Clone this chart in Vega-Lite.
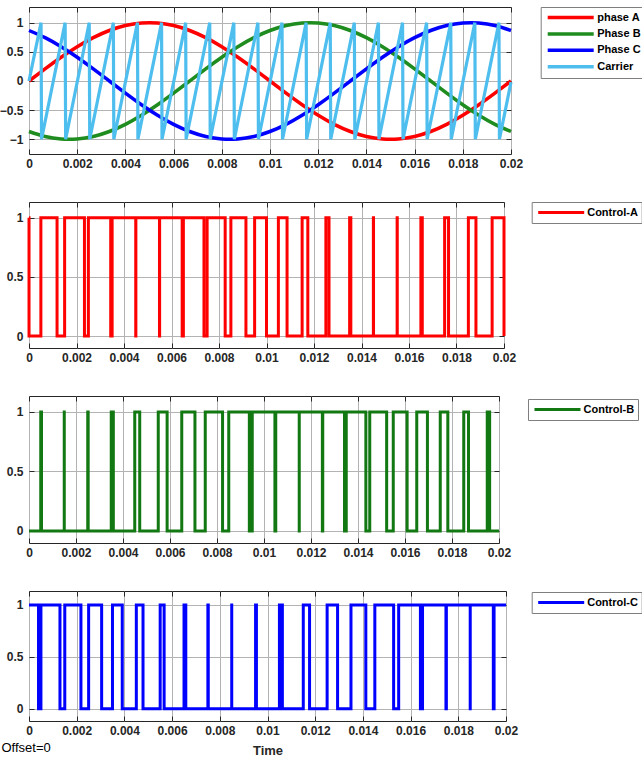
{
  "$schema": "https://vega.github.io/schema/vega-lite/v6.json",
  "padding": {"left": -2, "top": 6, "right": 0, "bottom": 0},
  "background": "white",
  "bounds": "flush",
  "spacing": 48,
  "datasets": {
    "sines": [
      {"t": 0, "phase A": 0, "Phase B": -0.866, "Phase C": 0.866},
      {"t": 0.00066667, "phase A": 0.2079, "Phase B": -0.9511, "Phase C": 0.7431},
      {"t": 0.00133333, "phase A": 0.4067, "Phase B": -0.9945, "Phase C": 0.5878},
      {"t": 0.002, "phase A": 0.5878, "Phase B": -0.9945, "Phase C": 0.4067},
      {"t": 0.00266667, "phase A": 0.7431, "Phase B": -0.9511, "Phase C": 0.2079},
      {"t": 0.00333333, "phase A": 0.866, "Phase B": -0.866, "Phase C": 0},
      {"t": 0.004, "phase A": 0.9511, "Phase B": -0.7431, "Phase C": -0.2079},
      {"t": 0.00466667, "phase A": 0.9945, "Phase B": -0.5878, "Phase C": -0.4067},
      {"t": 0.00533333, "phase A": 0.9945, "Phase B": -0.4067, "Phase C": -0.5878},
      {"t": 0.006, "phase A": 0.9511, "Phase B": -0.2079, "Phase C": -0.7431},
      {"t": 0.00666667, "phase A": 0.866, "Phase B": 0, "Phase C": -0.866},
      {"t": 0.00733333, "phase A": 0.7431, "Phase B": 0.2079, "Phase C": -0.9511},
      {"t": 0.008, "phase A": 0.5878, "Phase B": 0.4067, "Phase C": -0.9945},
      {"t": 0.00866667, "phase A": 0.4067, "Phase B": 0.5878, "Phase C": -0.9945},
      {"t": 0.00933333, "phase A": 0.2079, "Phase B": 0.7431, "Phase C": -0.9511},
      {"t": 0.01, "phase A": 0, "Phase B": 0.866, "Phase C": -0.866},
      {"t": 0.01066667, "phase A": -0.2079, "Phase B": 0.9511, "Phase C": -0.7431},
      {"t": 0.01133333, "phase A": -0.4067, "Phase B": 0.9945, "Phase C": -0.5878},
      {"t": 0.012, "phase A": -0.5878, "Phase B": 0.9945, "Phase C": -0.4067},
      {"t": 0.01266667, "phase A": -0.7431, "Phase B": 0.9511, "Phase C": -0.2079},
      {"t": 0.01333333, "phase A": -0.866, "Phase B": 0.866, "Phase C": 0},
      {"t": 0.014, "phase A": -0.9511, "Phase B": 0.7431, "Phase C": 0.2079},
      {"t": 0.01466667, "phase A": -0.9945, "Phase B": 0.5878, "Phase C": 0.4067},
      {"t": 0.01533333, "phase A": -0.9945, "Phase B": 0.4067, "Phase C": 0.5878},
      {"t": 0.016, "phase A": -0.9511, "Phase B": 0.2079, "Phase C": 0.7431},
      {"t": 0.01666667, "phase A": -0.866, "Phase B": 0, "Phase C": 0.866},
      {"t": 0.01733333, "phase A": -0.7431, "Phase B": -0.2079, "Phase C": 0.9511},
      {"t": 0.018, "phase A": -0.5878, "Phase B": -0.4067, "Phase C": 0.9945},
      {"t": 0.01866667, "phase A": -0.4067, "Phase B": -0.5878, "Phase C": 0.9945},
      {"t": 0.01933333, "phase A": -0.2079, "Phase B": -0.7431, "Phase C": 0.9511},
      {"t": 0.02, "phase A": 0, "Phase B": -0.866, "Phase C": 0.866}
    ],
    "carrier": [
      {"t": 0, "v": 0},
      {"t": 0.0005, "v": 1}, {"t": 0.00052, "v": -1},
      {"t": 0.0015, "v": 1}, {"t": 0.00152, "v": -1},
      {"t": 0.0025, "v": 1}, {"t": 0.00252, "v": -1},
      {"t": 0.0035, "v": 1}, {"t": 0.00352, "v": -1},
      {"t": 0.0045, "v": 1}, {"t": 0.00452, "v": -1},
      {"t": 0.0055, "v": 1}, {"t": 0.00552, "v": -1},
      {"t": 0.0065, "v": 1}, {"t": 0.00652, "v": -1},
      {"t": 0.0075, "v": 1}, {"t": 0.00752, "v": -1},
      {"t": 0.0085, "v": 1}, {"t": 0.00852, "v": -1},
      {"t": 0.0095, "v": 1}, {"t": 0.00952, "v": -1},
      {"t": 0.0105, "v": 1}, {"t": 0.01052, "v": -1},
      {"t": 0.0115, "v": 1}, {"t": 0.01152, "v": -1},
      {"t": 0.0125, "v": 1}, {"t": 0.01252, "v": -1},
      {"t": 0.0135, "v": 1}, {"t": 0.01352, "v": -1},
      {"t": 0.0145, "v": 1}, {"t": 0.01452, "v": -1},
      {"t": 0.0155, "v": 1}, {"t": 0.01552, "v": -1},
      {"t": 0.0165, "v": 1}, {"t": 0.01652, "v": -1},
      {"t": 0.0175, "v": 1}, {"t": 0.01752, "v": -1},
      {"t": 0.0185, "v": 1}, {"t": 0.01852, "v": -1},
      {"t": 0.0195, "v": 1}, {"t": 0.01952, "v": -1},
      {"t": 0.02, "v": -0.02}
    ],
    "ctrlA": [
      {"t": 0, "v": 1}, {"t": 0.000001, "v": 0}, {"t": 0.0005, "v": 1}, {"t": 0.0011811, "v": 0},
      {"t": 0.0015, "v": 1}, {"t": 0.002335, "v": 0}, {"t": 0.0025, "v": 1}, {"t": 0.0034411, "v": 0},
      {"t": 0.0035, "v": 1}, {"t": 0.0044939, "v": 0}, {"t": 0.0045, "v": 1}, {"t": 0.0054939, "v": 0},
      {"t": 0.0055, "v": 1}, {"t": 0.0064494, "v": 0}, {"t": 0.0065, "v": 1}, {"t": 0.0073678, "v": 0},
      {"t": 0.0075, "v": 1}, {"t": 0.00826, "v": 0}, {"t": 0.0085, "v": 1}, {"t": 0.0091344, "v": 0},
      {"t": 0.0095, "v": 1}, {"t": 0.01, "v": 0}, {"t": 0.0105, "v": 1}, {"t": 0.0108656, "v": 0},
      {"t": 0.0115, "v": 1}, {"t": 0.01174, "v": 0}, {"t": 0.0125, "v": 1}, {"t": 0.0126322, "v": 0},
      {"t": 0.0135, "v": 1}, {"t": 0.0135506, "v": 0}, {"t": 0.0145, "v": 1}, {"t": 0.0145061, "v": 0},
      {"t": 0.0155, "v": 1}, {"t": 0.0155061, "v": 0}, {"t": 0.0165, "v": 1}, {"t": 0.0165589, "v": 0},
      {"t": 0.0175, "v": 1}, {"t": 0.017665, "v": 0}, {"t": 0.0185, "v": 1}, {"t": 0.0188189, "v": 0},
      {"t": 0.0195, "v": 1}, {"t": 0.02, "v": 0}
    ],
    "ctrlB": [
      {"t": 0, "v": 0}, {"t": 0.0005, "v": 1}, {"t": 0.0005317, "v": 0}, {"t": 0.0015, "v": 1},
      {"t": 0.0015006, "v": 0}, {"t": 0.0025, "v": 1}, {"t": 0.0025178, "v": 0}, {"t": 0.0035, "v": 1},
      {"t": 0.0035883, "v": 0}, {"t": 0.0045, "v": 1}, {"t": 0.0047117, "v": 0}, {"t": 0.0055, "v": 1},
      {"t": 0.0058778, "v": 0}, {"t": 0.0065, "v": 1}, {"t": 0.0070617, "v": 0}, {"t": 0.0075, "v": 1},
      {"t": 0.0082367, "v": 0}, {"t": 0.0085, "v": 1}, {"t": 0.0093761, "v": 0}, {"t": 0.0095, "v": 1},
      {"t": 0.0104644, "v": 0}, {"t": 0.0105, "v": 1}, {"t": 0.0114994, "v": 0}, {"t": 0.0115, "v": 1},
      {"t": 0.0124839, "v": 0}, {"t": 0.0125, "v": 1}, {"t": 0.0134256, "v": 0}, {"t": 0.0135, "v": 1},
      {"t": 0.0143344, "v": 0}, {"t": 0.0145, "v": 1}, {"t": 0.0152194, "v": 0}, {"t": 0.0155, "v": 1},
      {"t": 0.01609, "v": 0}, {"t": 0.0165, "v": 1}, {"t": 0.0169544, "v": 0}, {"t": 0.0175, "v": 1},
      {"t": 0.0178222, "v": 0}, {"t": 0.0185, "v": 1}, {"t": 0.0187017, "v": 0}, {"t": 0.0195, "v": 1},
      {"t": 0.0196017, "v": 0}, {"t": 0.02, "v": 0}
    ],
    "ctrlC": [
      {"t": 0, "v": 1}, {"t": 0.0003989, "v": 0}, {"t": 0.0005, "v": 1}, {"t": 0.0012983, "v": 0},
      {"t": 0.0015, "v": 1}, {"t": 0.0021778, "v": 0}, {"t": 0.0025, "v": 1}, {"t": 0.0030456, "v": 0},
      {"t": 0.0035, "v": 1}, {"t": 0.00391, "v": 0}, {"t": 0.0045, "v": 1}, {"t": 0.0047806, "v": 0},
      {"t": 0.0055, "v": 1}, {"t": 0.0056656, "v": 0}, {"t": 0.0065, "v": 1}, {"t": 0.0065744, "v": 0},
      {"t": 0.0075, "v": 1}, {"t": 0.0075161, "v": 0}, {"t": 0.0085, "v": 1}, {"t": 0.0085006, "v": 0},
      {"t": 0.0095, "v": 1}, {"t": 0.0095356, "v": 0}, {"t": 0.0105, "v": 1}, {"t": 0.0106239, "v": 0},
      {"t": 0.0115, "v": 1}, {"t": 0.0117633, "v": 0}, {"t": 0.0125, "v": 1}, {"t": 0.0129383, "v": 0},
      {"t": 0.0135, "v": 1}, {"t": 0.0141222, "v": 0}, {"t": 0.0145, "v": 1}, {"t": 0.0152883, "v": 0},
      {"t": 0.0155, "v": 1}, {"t": 0.0164117, "v": 0}, {"t": 0.0165, "v": 1}, {"t": 0.0174822, "v": 0},
      {"t": 0.0175, "v": 1}, {"t": 0.0184994, "v": 0}, {"t": 0.0185, "v": 1}, {"t": 0.0194683, "v": 0},
      {"t": 0.0195, "v": 1}, {"t": 0.02, "v": 1}
    ]
  },
  "config": {
    "font": "Liberation Sans",
    "view": {"stroke": "#262626", "strokeWidth": 1},
    "axis": {
      "domain": false,
      "labelFont": "Liberation Sans", "labelFontSize": 12, "labelFontWeight": "bold", "labelColor": "#262626",
      "tickColor": "#262626", "tickSize": -5, "tickWidth": 1,
      "gridColor": "#b3b3b3", "gridWidth": 1,
      "titleFont": "Liberation Sans", "titleFontSize": 13, "titleFontWeight": "bold", "titleColor": "#262626",
      "labelFlush": false, "labelOverlap": false
    },
    "axisX": {"labelPadding": 9},
    "axisY": {"labelPadding": 11},
    "legend": {
      "orient": "none", "title": null,
      "symbolType": "stroke", "symbolSize": 2116, "clipHeight": 15, "rowPadding": 1.4,
      "padding": 3, "symbolOffset": 2, "labelOffset": 1.5,
      "labelFont": "Liberation Sans", "labelFontSize": 11, "labelFontWeight": "bold", "labelColor": "#000000",
      "strokeColor": "#7f7f7f", "fillColor": "#ffffff"
    }
  },
  "vconcat": [
    {
      "width": 482, "height": 147,
      "layer": [
        {
          "data": {"name": "sines"},
          "transform": [{"fold": ["phase A", "Phase B", "Phase C"], "as": ["s", "v"]}],
          "mark": {"type": "line", "interpolate": "natural", "strokeWidth": 3.5},
          "encoding": {
            "x": {"field": "t", "type": "quantitative", "scale": {"domain": [0, 0.02], "nice": false, "zero": false},
                  "axis": {"title": null, "values": [0, 0.002, 0.004, 0.006, 0.008, 0.01, 0.012, 0.014, 0.016, 0.018, 0.02], "format": "~g"}},
            "y": {"field": "v", "type": "quantitative", "scale": {"domain": [-1.252, 1.269], "nice": false, "zero": false},
                  "axis": {"title": null, "values": [-1, -0.5, 0, 0.5, 1], "format": "~g"}},
            "color": {"field": "s", "type": "nominal",
                      "scale": {"domain": ["phase A", "Phase B", "Phase C", "Carrier"], "range": ["#ff0000", "#1e8c1e", "#0000ff", "#4dbeee"]},
                      "legend": {"legendX": 511.7, "legendY": 0, "symbolStrokeWidth": 3.5}}
          }
        },
        {
          "data": {"name": "carrier"},
          "mark": {"type": "line", "strokeWidth": 3.2},
          "encoding": {
            "x": {"field": "t", "type": "quantitative", "axis": null},
            "y": {"field": "v", "type": "quantitative", "axis": null},
            "color": {"datum": "Carrier"}
          }
        },
        {
          "data": {"name": "carrier"},
          "mark": {"type": "line", "opacity": 0},
          "encoding": {
            "x": {"field": "t", "type": "quantitative", "axis": {"orient": "top", "labels": false, "grid": false, "title": null, "values": [0, 0.002, 0.004, 0.006, 0.008, 0.01, 0.012, 0.014, 0.016, 0.018, 0.02]}},
            "y": {"field": "v", "type": "quantitative", "axis": {"orient": "right", "labels": false, "grid": false, "title": null, "values": [-1, -0.5, 0, 0.5, 1]}}
          }
        }
      ],
      "resolve": {"axis": {"x": "independent", "y": "independent"}}
    },
    {
      "width": 475, "height": 146,
      "layer": [
        {
          "data": {"name": "ctrlA"},
          "mark": {"type": "line", "interpolate": "step-after", "strokeWidth": 3},
          "encoding": {
            "x": {"field": "t", "type": "quantitative", "scale": {"domain": [0, 0.02], "nice": false, "zero": false},
                  "axis": {"title": null, "values": [0, 0.002, 0.004, 0.006, 0.008, 0.01, 0.012, 0.014, 0.016, 0.018, 0.02], "format": "~g"}},
            "y": {"field": "v", "type": "quantitative", "scale": {"domain": [-0.101, 1.133], "nice": false, "zero": false},
                  "axis": {"title": null, "values": [0, 0.5, 1], "format": "~g"}},
            "color": {"datum": "Control-A", "scale": {"domain": ["Control-A"], "range": ["#ff0000"]},
                      "legend": {"legendX": 502.7, "legendY": 0, "symbolStrokeWidth": 3}}
          }
        },
        {
          "data": {"name": "ctrlA"},
          "mark": {"type": "line", "opacity": 0},
          "encoding": {
            "x": {"field": "t", "type": "quantitative", "axis": {"orient": "top", "labels": false, "grid": false, "title": null, "values": [0, 0.002, 0.004, 0.006, 0.008, 0.01, 0.012, 0.014, 0.016, 0.018, 0.02]}},
            "y": {"field": "v", "type": "quantitative", "axis": {"orient": "right", "labels": false, "grid": false, "title": null, "values": [0, 0.5, 1]}}
          }
        }
      ],
      "resolve": {"axis": {"x": "independent", "y": "independent"}}
    },
    {
      "width": 470, "height": 147,
      "layer": [
        {
          "data": {"name": "ctrlB"},
          "mark": {"type": "line", "interpolate": "step-after", "strokeWidth": 3},
          "encoding": {
            "x": {"field": "t", "type": "quantitative", "scale": {"domain": [0, 0.02], "nice": false, "zero": false},
                  "axis": {"title": null, "values": [0, 0.002, 0.004, 0.006, 0.008, 0.01, 0.012, 0.014, 0.016, 0.018, 0.02], "format": "~g"}},
            "y": {"field": "v", "type": "quantitative", "scale": {"domain": [-0.101, 1.134], "nice": false, "zero": false},
                  "axis": {"title": null, "values": [0, 0.5, 1], "format": "~g"}},
            "color": {"datum": "Control-B", "scale": {"domain": ["Control-B"], "range": ["#127812"]},
                      "legend": {"legendX": 499, "legendY": 3, "symbolStrokeWidth": 3}}
          }
        },
        {
          "data": {"name": "ctrlB"},
          "mark": {"type": "line", "opacity": 0},
          "encoding": {
            "x": {"field": "t", "type": "quantitative", "axis": {"orient": "top", "labels": false, "grid": false, "title": null, "values": [0, 0.002, 0.004, 0.006, 0.008, 0.01, 0.012, 0.014, 0.016, 0.018, 0.02]}},
            "y": {"field": "v", "type": "quantitative", "axis": {"orient": "right", "labels": false, "grid": false, "title": null, "values": [0, 0.5, 1]}}
          }
        }
      ],
      "resolve": {"axis": {"x": "independent", "y": "independent"}}
    },
    {
      "width": 477, "height": 130,
      "title": {"text": "Offset=0", "orient": "bottom", "anchor": "start", "frame": "group", "dx": -27.5, "dy": -15, "offset": 0,
                "font": "Liberation Sans", "fontSize": 13, "fontWeight": "normal", "color": "#000000"},
      "layer": [
        {
          "data": {"name": "ctrlC"},
          "mark": {"type": "line", "interpolate": "step-after", "strokeWidth": 3},
          "encoding": {
            "x": {"field": "t", "type": "quantitative", "scale": {"domain": [0, 0.02], "nice": false, "zero": false},
                  "axis": {"title": "Time", "titlePadding": 8, "values": [0, 0.002, 0.004, 0.006, 0.008, 0.01, 0.012, 0.014, 0.016, 0.018, 0.02], "format": "~g"}},
            "y": {"field": "v", "type": "quantitative", "scale": {"domain": [-0.119, 1.135], "nice": false, "zero": false},
                  "axis": {"title": null, "values": [0, 0.5, 1], "format": "~g"}},
            "color": {"datum": "Control-C", "scale": {"domain": ["Control-C"], "range": ["#0000ff"]},
                      "legend": {"legendX": 502.7, "legendY": 1, "symbolStrokeWidth": 3}}
          }
        },
        {
          "data": {"name": "ctrlC"},
          "mark": {"type": "line", "opacity": 0},
          "encoding": {
            "x": {"field": "t", "type": "quantitative", "axis": {"orient": "top", "labels": false, "grid": false, "title": null, "values": [0, 0.002, 0.004, 0.006, 0.008, 0.01, 0.012, 0.014, 0.016, 0.018, 0.02]}},
            "y": {"field": "v", "type": "quantitative", "axis": {"orient": "right", "labels": false, "grid": false, "title": null, "values": [0, 0.5, 1]}}
          }
        }
      ],
      "resolve": {"axis": {"x": "independent", "y": "independent"}}
    }
  ],
  "resolve": {"scale": {"x": "independent", "y": "independent", "color": "independent"}, "legend": {"color": "independent"}}
}
